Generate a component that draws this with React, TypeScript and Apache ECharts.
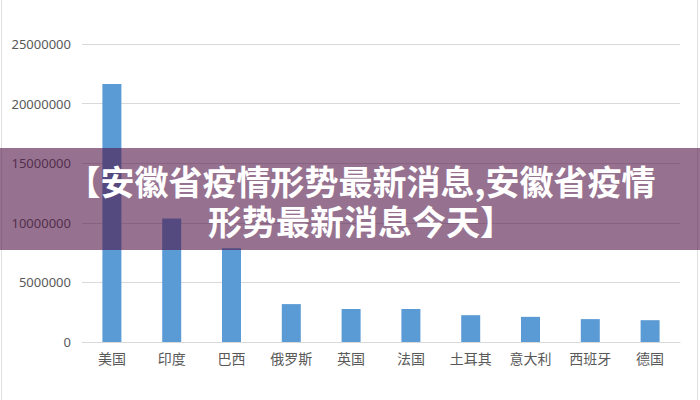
import React, { useEffect, useRef } from "react";
import * as echarts from "echarts";

const categories = ["美国", "印度", "巴西", "俄罗斯", "英国", "法国", "土耳其", "意大利", "西班牙", "德国"];
const values = [21650000, 10370000, 7860000, 3180000, 2770000, 2770000, 2250000, 2110000, 1920000, 1830000];
const bannerLine1 = "【安徽省疫情形势最新消息,安徽省疫情";
const bannerLine2 = "形势最新消息今天】";

export default function App() {
  const ref = useRef<HTMLDivElement>(null);
  useEffect(() => {
    if (!ref.current) return;
    const chart = echarts.init(ref.current, null, { renderer: "svg" });
    chart.setOption({
      animation: false,
      backgroundColor: "#ffffff",
      grid: { left: 82, right: 20, top: 44, bottom: 58, containLabel: false },
      xAxis: {
        type: "category",
        data: categories,
        axisLine: { show: true, lineStyle: { color: "#d9d9d9", width: 1 } },
        axisTick: { show: false },
        axisLabel: {
          color: "#595959",
          fontSize: 14,
          margin: 9,
          fontFamily: "'Noto Sans CJK SC', sans-serif",
          interval: 0,
        },
      },
      yAxis: {
        type: "value",
        min: 0,
        max: 25000000,
        interval: 5000000,
        axisLine: { show: false },
        axisTick: { show: false },
        splitLine: { lineStyle: { color: "#d9d9d9", width: 1 } },
        axisLabel: {
          color: "#595959",
          fontSize: 13,
          margin: 11,
          fontFamily: "'Noto Sans', sans-serif",
          formatter: (v: number) => String(v),
        },
      },
      series: [
        {
          type: "bar",
          data: values,
          barWidth: 19,
          itemStyle: { color: "#5b9bd5" },
        },
      ],
      graphic: [
        {
          type: "line",
          shape: { x1: 1.5, y1: 0, x2: 1.5, y2: 400 },
          style: { stroke: "#e0e0e0", lineWidth: 1 },
          z: 50,
        },
        {
          type: "line",
          shape: { x1: 697.5, y1: 0, x2: 697.5, y2: 400 },
          style: { stroke: "#e0e0e0", lineWidth: 1 },
          z: 50,
        },
        {
          type: "rect",
          shape: { x: 0, y: 148, width: 700, height: 102 },
          style: { fill: "rgba(80,20,70,0.6)" },
          z: 100,
        },
        {
          type: "text",
          x: 361,
          y: 200,
          style: {
            text: bannerLine1 + "\n" + bannerLine2,
            fill: "#ffffff",
            font: "bold 34px 'Noto Sans CJK SC', sans-serif",
            lineHeight: 40,
            textAlign: "center",
            textVerticalAlign: "middle",
          },
          z: 101,
        },
      ],
    });
    return () => chart.dispose();
  }, []);
  return (
    <div
      ref={ref}
      style={{ position: "fixed", left: 0, top: 0, width: 700, height: 400 }}
    />
  );
}
